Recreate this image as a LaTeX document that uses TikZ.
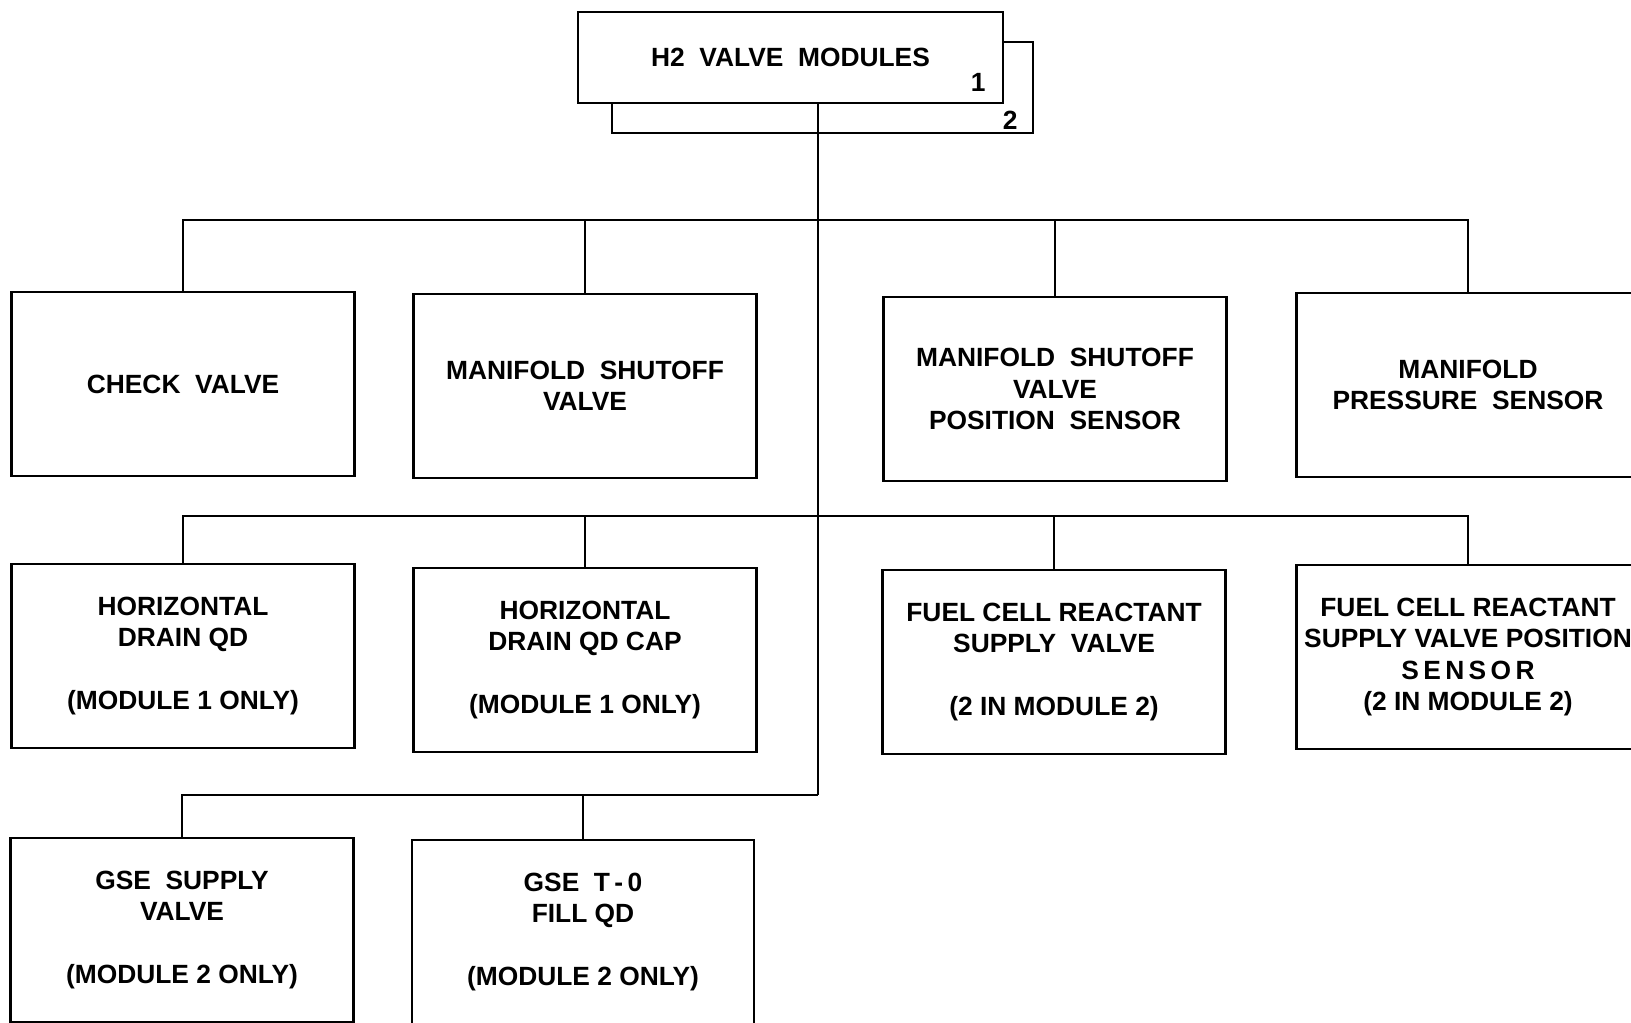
\documentclass[tikz,border=0pt]{standalone}
\usepackage{fontspec}
\setmainfont{Liberation Sans}

\begin{document}
\begin{tikzpicture}[
  font=\bfseries\fontsize{7.5}{8.9}\selectfont,
  line width=0.8pt,
  box/.style={draw, fill=white, minimum width=3.43cm, minimum height=1.84cm,
              align=center, inner sep=2pt},
  hbox/.style={draw, fill=white, minimum width=4.25cm, minimum height=0.91cm,
               align=center},
  num/.style={inner sep=1pt, anchor=south east}
]
  \useasboundingbox (0,0) rectangle (16.31,10.23);
  \clip (0,0) rectangle (16.31,10.23);

  % Stacked module boxes
  \node[hbox, minimum width=4.21cm] (h2b) at (8.225, 9.355) {};
  \node[num, xshift=-0.12cm] (m2) at (h2b.south east) {2};
  \node[hbox] (h2a) at (7.905, 9.655) {H2\ \ VALVE\ \ MODULES};
  \node[num, xshift=-0.14cm, yshift=0.08cm] (m1) at (h2a.south east) {1};

  % Bus levels on the trunk
  \coordinate (bus1) at (8.18, 8.03);
  \coordinate (bus2) at (8.18, 5.07);
  \coordinate (bus3) at (8.18, 2.28);

  % First row
  \node[box] (chk)   at (1.83, 6.39)  {CHECK\ \ VALVE};
  \node[box] (msv)   at (5.85, 6.37)  {MANIFOLD\ \ SHUTOFF\\VALVE};
  \node[box] (msvps) at (10.55, 6.34) {MANIFOLD\ \ SHUTOFF\\VALVE\\POSITION\ \ SENSOR};
  \node[box] (mps)   at (14.68, 6.38) {MANIFOLD\\PRESSURE\ \ SENSOR};
  % Second row
  \node[box] (hdqd)  at (1.83, 3.67)  {HORIZONTAL\\DRAIN\ QD\\[8.9pt](MODULE\ 1\ ONLY)};
  \node[box] (hdcap) at (5.85, 3.63)  {HORIZONTAL\\DRAIN\ QD\ CAP\\[8.9pt](MODULE\ 1\ ONLY)};
  \node[box] (fcrsv) at (10.54, 3.61) {FUEL\ CELL\ REACTANT\\SUPPLY\ \ VALVE\\[8.9pt](2\ IN\ MODULE\ 2)};
  \node[box] (fcps)  at (14.68, 3.66) {FUEL\ CELL\ REACTANT\\SUPPLY\ VALVE\ POSITION\\S\,E\,N\,S\,O\,R\\(2\ IN\ MODULE\ 2)};
  % Third row
  \node[box] (gsesv) at (1.82, 0.93) {GSE\ \ SUPPLY\\VALVE\\[8.9pt](MODULE\ 2\ ONLY)};
  \node[box, minimum width=3.42cm] (gseto) at (5.83, 0.91) {GSE\ \ T\,-\,0\\FILL\ QD\\[8.9pt](MODULE\ 2\ ONLY)};

  % Trunk from the modules
  \draw (h2a.south -| bus3) -- (bus3);

  % First bus
  \draw (chk.north) |- (bus1) -| (mps.north);
  \draw (msv.north)   -- (msv.north |- bus1);
  \draw (msvps.north) -- (msvps.north |- bus1);

  % Second bus
  \draw (hdqd.north) |- (bus2) -| (fcps.north);
  \draw (hdcap.north) -- (hdcap.north |- bus2);
  \draw (fcrsv.north) -- (fcrsv.north |- bus2);

  % Third bus
  \draw (gsesv.north) |- (bus3);
  \draw (gseto.north) -- (gseto.north |- bus3);

\end{tikzpicture}
\end{document}
